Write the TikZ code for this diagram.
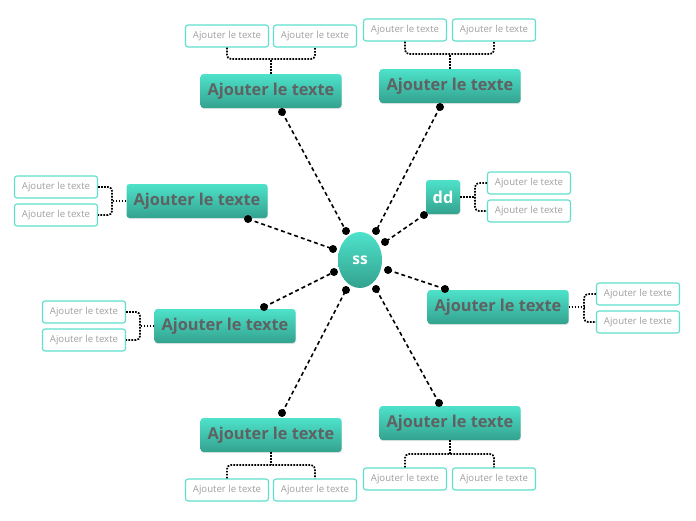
\documentclass[tikz,border=0pt]{standalone}
\usepackage{fontspec}
\setmainfont{Open Sans}
\usetikzlibrary{shapes.geometric,shadows}
\definecolor{tealtop}{HTML}{4EE2CA}
\definecolor{tealbot}{HTML}{33A28F}
\definecolor{subborder}{HTML}{5FE0CC}
\definecolor{subtxt}{HTML}{A0A0A0}
\definecolor{maintxt}{HTML}{5E6262}
\tikzset{
  mainbox/.style={rounded corners=3pt, top color=tealtop, bottom color=tealbot, draw=none,
    text=maintxt, font=\fontsize{16.3}{18}\selectfont\bfseries, minimum width=141pt, minimum height=34pt, inner sep=0pt,
    drop shadow={opacity=0.18, shadow xshift=0.6pt, shadow yshift=-1.2pt}},
  subbox/.style={draw=subborder, line width=1.1pt, rounded corners=2.5pt, fill=white, text=subtxt,
    font=\fontsize{9.6}{11}\selectfont, minimum width=83pt, minimum height=22pt, inner sep=0pt},
  conn/.style={line width=1.6pt, dash pattern=on 4pt off 3pt},
  brk/.style={line width=1.7pt, dash pattern=on 1.7pt off 1.3pt, rounded corners=4pt},
  enddot/.style={fill=black, draw=none}
}
\begin{document}
\begin{tikzpicture}[x=1pt,y=-1pt]
\useasboundingbox (0,0) rectangle (696,520);
% center
\node[ellipse, top color=tealtop, bottom color=tealbot, minimum width=44pt, minimum height=56pt, inner sep=0pt,
  text=white, font=\fontsize{15.5}{17}\selectfont\bfseries] (c) at (360,260) {ss};
% main nodes
\node[mainbox] (n1) at (271,91) {Ajouter le texte};
\node[mainbox] (n2) at (450,86) {Ajouter le texte};
\node[mainbox] (n3) at (197,201) {Ajouter le texte};
\node[mainbox, minimum width=34pt, text=white] (n4) at (443,197) {dd};
\node[mainbox] (n5) at (225,326) {Ajouter le texte};
\node[mainbox] (n6) at (498,307) {Ajouter le texte};
\node[mainbox] (n7) at (271,435) {Ajouter le texte};
\node[mainbox] (n8) at (450,423) {Ajouter le texte};
% sub nodes
\node[subbox] (s1a) at (227,36) {Ajouter le texte};
\node[subbox] (s1b) at (315,36) {Ajouter le texte};
\node[subbox] (s2a) at (405,30) {Ajouter le texte};
\node[subbox] (s2b) at (494,30) {Ajouter le texte};
\node[subbox] (s3a) at (56,187) {Ajouter le texte};
\node[subbox] (s3b) at (56,215) {Ajouter le texte};
\node[subbox] (s4a) at (529,183) {Ajouter le texte};
\node[subbox] (s4b) at (529,211) {Ajouter le texte};
\node[subbox] (s5a) at (84,312) {Ajouter le texte};
\node[subbox] (s5b) at (84,340) {Ajouter le texte};
\node[subbox] (s6a) at (638,294) {Ajouter le texte};
\node[subbox] (s6b) at (638,322) {Ajouter le texte};
\node[subbox] (s7a) at (227,490) {Ajouter le texte};
\node[subbox] (s7b) at (315,490) {Ajouter le texte};
\node[subbox] (s8a) at (405,479) {Ajouter le texte};
\node[subbox] (s8b) at (494,479) {Ajouter le texte};
% brackets
\draw[brk] (n1.north) -- (n1.north |- 0,59);
\draw[brk] (s1a.south) |- (n1.north |- 0,59) -| (s1b.south);
\draw[brk] (n2.north) -- (n2.north |- 0,54);
\draw[brk] (s2a.south) |- (n2.north |- 0,54) -| (s2b.south);
\draw[brk] (n7.south) -- (n7.south |- 0,465);
\draw[brk] (s7a.north) |- (n7.south |- 0,465) -| (s7b.north);
\draw[brk] (n8.south) -- (n8.south |- 0,454);
\draw[brk] (s8a.north) |- (n8.south |- 0,454) -| (s8b.north);
\draw[brk] (n3.west) -- (n3.west -| 112,0);
\draw[brk] (s3a.east) -| (n3.west -| 112,0) |- (s3b.east);
\draw[brk] (n4.east) -- (n4.east -| 475,0);
\draw[brk] (s4a.west) -| (n4.east -| 475,0) |- (s4b.west);
\draw[brk] (n5.west) -- (n5.west -| 140,0);
\draw[brk] (s5a.east) -| (n5.west -| 140,0) |- (s5b.east);
\draw[brk] (n6.east) -- (n6.east -| 584,0);
\draw[brk] (s6a.west) -| (n6.east -| 584,0) |- (s6b.west);
% connector end points
\coordinate (a1) at (282,112); \coordinate (b1) at (346,231);
\coordinate (a2) at (440,107); \coordinate (b2) at (376,231);
\coordinate (a3) at (248,219); \coordinate (b3) at (333,249);
\coordinate (a4) at (424,215); \coordinate (b4) at (385,242);
\coordinate (a5) at (264,307); \coordinate (b5) at (334,272);
\coordinate (a6) at (445,289); \coordinate (b6) at (388,270);
\coordinate (a7) at (282,413); \coordinate (b7) at (346,290);
\coordinate (a8) at (439,403); \coordinate (b8) at (376,289);
\foreach \i in {1,...,8}{
  \draw[conn] (a\i) -- (b\i);
  \fill[enddot] (a\i) circle (4pt);
  \fill[enddot] (b\i) circle (4pt);
}
\end{tikzpicture}
\end{document}
